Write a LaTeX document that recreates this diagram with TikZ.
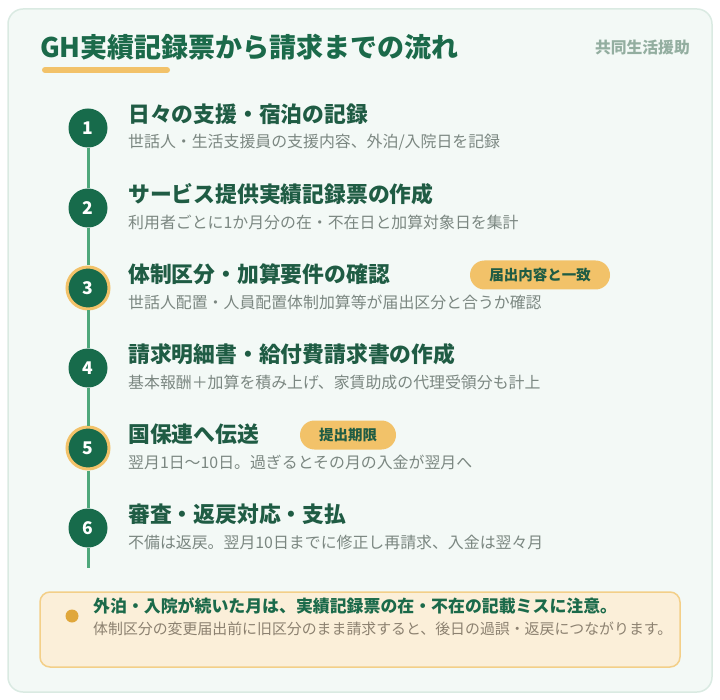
\documentclass[tikz,border=0pt]{standalone}
\usepackage{fontspec}
\setmainfont{Noto Sans CJK JP}
\definecolor{cardbg}{HTML}{F3F9F6}
\definecolor{cardline}{HTML}{DAEAE2}
\definecolor{headgreen}{HTML}{1B6A4A}
\definecolor{titlegreen}{HTML}{1F5C44}
\definecolor{numgreen}{HTML}{176B4B}
\definecolor{linegreen}{HTML}{4EA87B}
\definecolor{gold}{HTML}{F2C269}
\definecolor{notegray}{HTML}{7B8781}
\definecolor{kindgray}{HTML}{93AEA0}
\definecolor{warnbg}{HTML}{FBEFD9}
\definecolor{warnline}{HTML}{F3CF88}
\definecolor{dotgold}{HTML}{E0A73B}
\definecolor{warngray}{HTML}{8C8170}
\begin{document}
\begin{tikzpicture}[x=1pt,y=-1pt,
  stepnum/.style={circle,fill=numgreen,text=white,minimum size=39,inner sep=0,
    font=\bfseries\fontsize{17.5}{17.5}\selectfont},
  keynum/.style={stepnum,draw=gold,line width=3,minimum size=42},
  steptitle/.style={anchor=west,inner sep=0,text=titlegreen,
    font=\bfseries\fontsize{21.8}{21.8}\selectfont},
  stepnote/.style={anchor=west,inner sep=0,text=notegray,
    font=\fontsize{15.9}{15.9}\selectfont},
  tag/.style={fill=gold,rounded corners=14.5,minimum height=29,inner sep=0,
    text=titlegreen,font=\bfseries\fontsize{14.5}{14.5}\selectfont}]
\useasboundingbox (0,0) rectangle (720,700);
\draw[cardline,fill=cardbg,line width=1.5,rounded corners=15] (8,9) rectangle (712,692);
% heading
\node[anchor=west,inner sep=0,text=headgreen,font=\bfseries\fontsize{27}{27}\selectfont]
  (title) at (40,47) {GH実績記録票から請求までの流れ};
\draw[gold,line width=6,line cap=round] (45,70) -- (167,70);
\node[anchor=east,inner sep=0,text=kindgray,font=\bfseries\fontsize{15.8}{15.8}\selectfont]
  (kind) at (690,47) {共同生活援助};
% steps
\node[stepnum] (n1) at (88,128) {1};
\node[stepnum] (n2) at (88,208) {2};
\node[keynum] (n3) at (88,288) {3};
\node[stepnum] (n4) at (88,368) {4};
\node[keynum] (n5) at (88,448) {5};
\node[stepnum] (n6) at (88,528) {6};
\coordinate (lineend) at (88,568);
\draw[linegreen,line width=3] (n1) -- (n2) -- (n3) -- (n4) -- (n5) -- (n6) -- (lineend);
\node[steptitle] (t1) at (128,114) {日々の支援・宿泊の記録};
\node[stepnote] (d1) at (128,142) {世話人・生活支援員の支援内容、外泊/入院日を記録};
\node[steptitle] (t2) at (128,194) {サービス提供実績記録票の作成};
\node[stepnote] (d2) at (128,222) {利用者ごとに1か月分の在・不在日と加算対象日を集計};
\node[steptitle] (t3) at (128,274) {体制区分・加算要件の確認};
\node[stepnote] (d3) at (128,302) {世話人配置・人員配置体制加算等が届出区分と合うか確認};
\node[steptitle] (t4) at (128,354) {請求明細書・給付費請求書の作成};
\node[stepnote] (d4) at (128,382) {基本報酬＋加算を積み上げ、家賃助成の代理受領分も計上};
\node[steptitle] (t5) at (128,434) {国保連へ伝送};
\node[stepnote] (d5) at (128,462) {翌月1日〜10日。過ぎるとその月の入金が翌月へ};
\node[steptitle] (t6) at (128,514) {審査・返戻対応・支払};
\node[stepnote] (d6) at (128,542) {不備は返戻。翌月10日までに修正し再請求、入金は翌々月};
\node[tag,minimum width=140] (b3) at (540,275) {届出内容と一致};
\node[tag,minimum width=96] (b5) at (348,435) {提出期限};
% caution
\draw[warnline,fill=warnbg,line width=1.5,rounded corners=10] (40,592) rectangle (680,667);
\fill[dotgold] (72,616) circle (6.5);
\node[anchor=west,inner sep=0,text=headgreen,font=\bfseries\fontsize{16.9}{16.9}\selectfont]
  (warn) at (93,606) {外泊・入院が続いた月は、実績記録票の在・不在の記載ミスに注意。};
\node[anchor=west,inner sep=0,text=warngray,font=\fontsize{14.9}{14.9}\selectfont]
  (warnnote) at (93,629) {体制区分の変更届出前に旧区分のまま請求すると、後日の過誤・返戻につながります。};
\end{tikzpicture}
\end{document}
